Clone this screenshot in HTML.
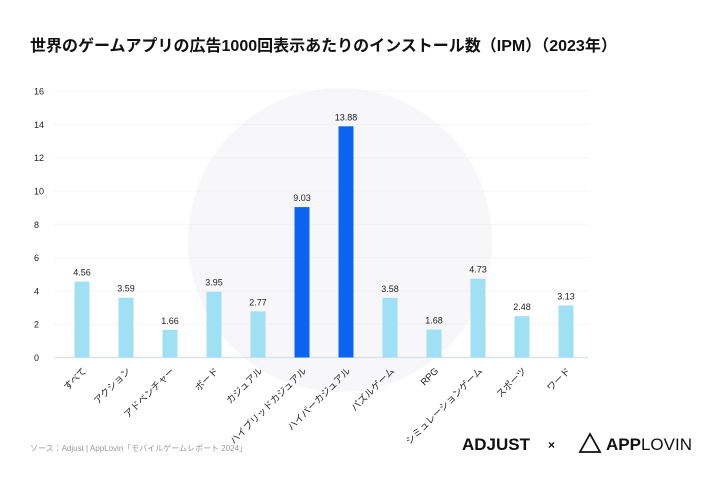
<!DOCTYPE html>
<html><head><meta charset="utf-8"><style>
body{margin:0;background:#fff;font-family:"Liberation Sans","Noto Sans CJK JP",sans-serif;}
#wrap{position:relative;width:720px;height:480px;overflow:hidden;background:#fff}
</style></head><body>
<div id="wrap">
<svg id="chart" width="720" height="480">
  <circle cx="340" cy="240" r="152" fill="#f7f7f9"/>
  <text x="30" y="51" font-size="16" font-weight="bold" fill="#111" font-family="'Liberation Sans','Noto Sans CJK JP',sans-serif">世界のゲームアプリの広告1000回表示あたりのインストール数（IPM）（2023年）</text>
  <g id="grid"></g><g id="bars"></g><g id="labels"></g>
  <text x="30" y="451" font-size="8" fill="#999" font-family="'Liberation Sans','Noto Sans CJK JP',sans-serif">ソース：Adjust | AppLovin「モバイルゲームレポート 2024」</text>
  <text x="462" y="450" font-size="17" font-weight="bold" fill="#111">ADJUST</text>
  <text x="548" y="449" font-size="12" font-weight="bold" fill="#111">×</text>
  <path d="M590 434 L580 452 L600 452 Z" fill="none" stroke="#111" stroke-width="1.8"/>
  <text x="606" y="450" font-size="17" fill="#111"><tspan font-weight="bold">APP</tspan>LOVIN</text>
</svg>
</div>
<script>
const categories=["すべて","アクション","アドベンチャー","ボード","カジュアル","ハイブリッドカジュアル","ハイパーカジュアル","パズルゲーム","RPG","シミュレーションゲーム","スポーツ","ワード"];
const values=[4.56,3.59,1.66,3.95,2.77,9.03,13.88,3.58,1.68,4.73,2.48,3.13];
const highlight=[false,false,false,false,false,true,true,false,false,false,false,false];
const ticks=[0,2,4,6,8,10,12,14,16];
const NS="http://www.w3.org/2000/svg";
const x0=60,x1=588,y0=357.5,ymax=16,ytop=91;
const y=v=>y0-(v/ymax)*(y0-ytop);
const band=(x1-x0)/categories.length;
const xc=i=>x0+band*(i+0.5);
function mk(t,a,p){const e=document.createElementNS(NS,t);for(const k in a)e.setAttribute(k,a[k]);p.appendChild(e);return e;}
const g=document.getElementById('grid'),b=document.getElementById('bars'),l=document.getElementById('labels');
ticks.forEach(t=>{
  const ln=mk('line',{x1:55,x2:x1,y1:y(t),y2:y(t),stroke:t===0?'#dde3ee':'#ececec','stroke-width':t===0?1.5:1,'stroke-dasharray':t===0?'':'1,1'},g);
  
  
  const tx=mk('text',{x:34,y:y(t)+3.5,'font-size':9,fill:'#222'},g);
  tx.textContent=t;
  
  
});
values.forEach((v,i)=>{
  const r=mk('rect',{x:xc(i)-7.5,y:y(v),width:15,height:y0-y(v),fill:highlight[i]?'#0a64f0':'#9fe0f5'},b);
  
  
  const vt=mk('text',{x:xc(i),y:y(v)-6,'font-size':9,fill:'#222','text-anchor':'middle'},l);
  vt.textContent=v.toFixed(2);
  
  
  const ct=mk('text',{x:xc(i)+5,y:y0+14,'font-size':9.5,fill:'#222','text-anchor':'end',transform:`rotate(-45 ${xc(i)+5} ${y0+14})`,'font-family':"'Liberation Sans','Noto Sans CJK JP',sans-serif"},l);
  ct.textContent=categories[i];
  
  
});
</script>
</body></html>
